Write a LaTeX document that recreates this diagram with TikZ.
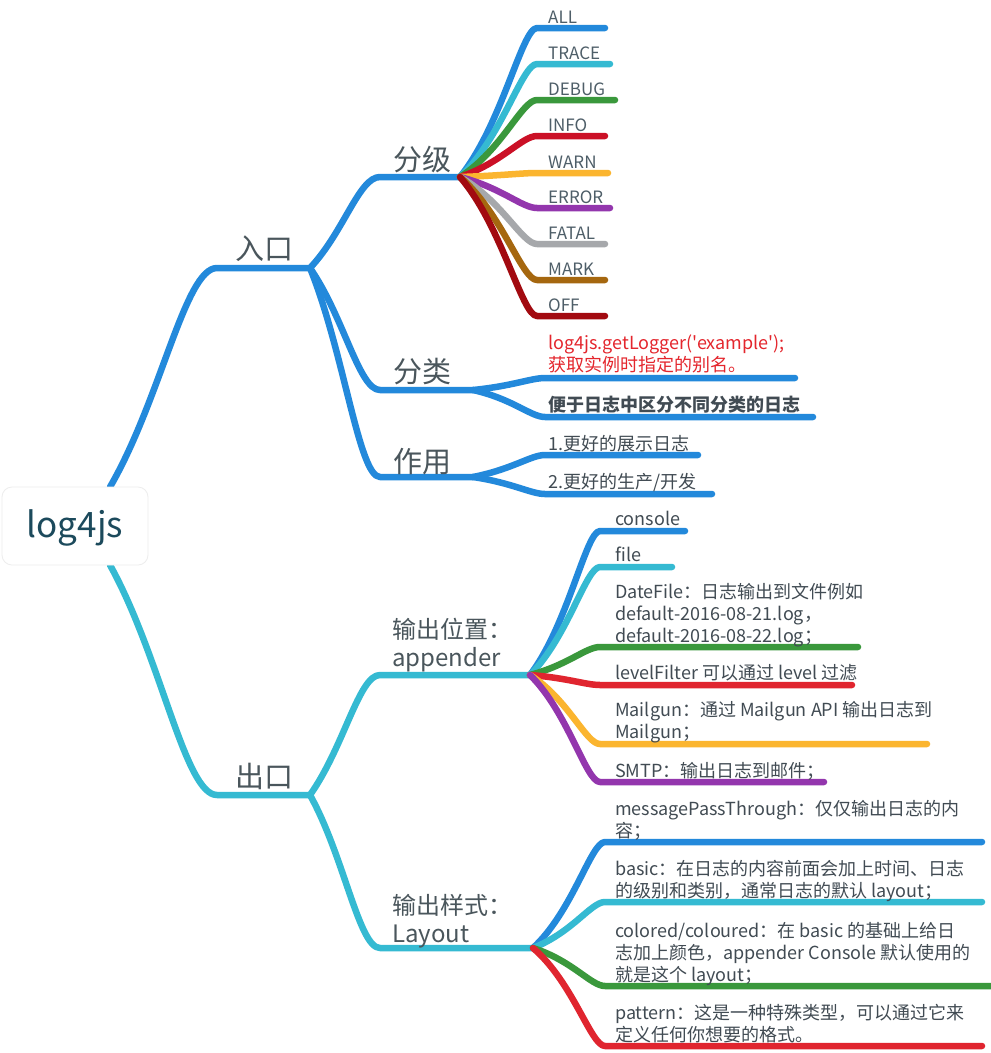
\documentclass[tikz,border=0pt]{standalone}
\usepackage{fontspec}
\setmainfont{Noto Sans CJK SC}[Ligatures=TeXOff]
\definecolor{cBlue}{HTML}{2389DB}
\definecolor{cCyan}{HTML}{35BAD2}
\definecolor{cGreen}{HTML}{3A983C}
\definecolor{cCrimson}{HTML}{CB1026}
\definecolor{cRed}{HTML}{E0252F}
\definecolor{cYellow}{HTML}{FBB52F}
\definecolor{cPurple}{HTML}{9336AD}
\definecolor{cGray}{HTML}{A6A8AB}
\definecolor{cBrown}{HTML}{A5670F}
\definecolor{cDark}{HTML}{A20A10}
\definecolor{txtMain}{HTML}{4A565C}
\definecolor{txtLeaf}{HTML}{414B53}
\definecolor{txtLvl}{HTML}{4E5E68}
\definecolor{txtRoot}{HTML}{1C4A5C}
\definecolor{txtRed}{HTML}{E4262D}
\newcommand\mlines[1]{\begin{tabular}[b]{@{}l@{}}#1\end{tabular}}
\begin{document}
\begin{tikzpicture}[x=1pt,y=-1pt,line cap=round,line join=round,
  br/.style={line width=6.5pt},
  mainlbl/.style={anchor=base west,inner sep=0pt,text=txtMain,font=\fontsize{29}{34}\selectfont},
  sublbl/.style={anchor=base west,inner sep=0pt,text=txtMain,font=\fontsize{24}{28}\selectfont},
  lvl/.style={anchor=base west,inner sep=0pt,text=txtLvl,font=\fontsize{17}{20}\selectfont},
  leaf/.style={anchor=base west,inner sep=0pt,text=txtLeaf,font=\fontsize{18}{22}\selectfont},
  leafb/.style={leaf,font=\fontsize{18}{22}\selectfont\bfseries},
  rootbox/.style={draw=black!7,line width=0.8pt,fill=white,rounded corners=10pt,
    minimum width=146pt,minimum height=78pt,inner sep=0pt,text=txtRoot,
    font=\fontsize{35}{42}\selectfont,text height=26pt,text depth=4pt}
]
\fill[white] (0,0) rectangle (991,1053);
\useasboundingbox (0,0) rectangle (991,1053);

% ---------- root -> level 1
\coordinate (rootT) at (110,487);
\coordinate (rootB) at (110,565);
\coordinate (rkE) at (217,268); \coordinate (rkH) at (310,268);
\coordinate (ckE) at (217,795); \coordinate (ckH) at (310,795);
\draw[br,cBlue] (rootT) .. controls +(51,-88) and +(-32,0) .. (rkE) -- (rkH);
\draw[br,cCyan] (rootB) .. controls +(51,92) and +(-32,0) .. (ckE) -- (ckH);
\node[mainlbl] (rk) at (235,259) {入口};
\node[mainlbl] (ck) at (235,787) {出口};

% ---------- 入口 -> level 2
\coordinate (fjE) at (380,177); \coordinate (fjH) at (460,177);
\coordinate (flE) at (380,390); \coordinate (flH) at (473,390);
\coordinate (zyE) at (380,477); \coordinate (zyH) at (473,477);
\draw[br,cBlue] (rkH) .. controls +(34,-36) and +(-21,0) .. (fjE) -- (fjH);
\draw[br,cBlue] (rkH) .. controls +(34,49) and +(-21,0) .. (flE) -- (flH);
\draw[br,cBlue] (rkH) .. controls +(34,84) and +(-21,0) .. (zyE) -- (zyH);
\node[mainlbl] (fj) at (393,170) {分级};
\node[mainlbl] (fl) at (393,382) {分类};
\node[mainlbl] (zy) at (393,472) {作用};

% ---------- 出口 -> level 2
\coordinate (wzE) at (380,675); \coordinate (wzH) at (530,675);
\coordinate (ysE) at (380,948); \coordinate (ysH) at (533,948);
\draw[br,cCyan] (ckH) .. controls +(34,-48) and +(-21,0) .. (wzE) -- (wzH);
\draw[br,cCyan] (ckH) .. controls +(34,61) and +(-21,0) .. (ysE) -- (ysH);
\node[sublbl] (wz) at (392,666) {\mlines{输出位置：\\appender}};
\node[sublbl] (ys) at (392,942) {\mlines{输出样式：\\Layout}};

% ---------- 分级 leaves
\foreach \n/\y/\xe/\c/\t in {all/28/605/cBlue/ALL,trace/64/610/cCyan/TRACE,
  debug/100/615/cGreen/DEBUG,info/136/605/cCrimson/INFO,warn/173/608/cYellow/WARN,
  error/208/610/cPurple/ERROR,fatal/244/605/cGray/FATAL,mark/280/605/cBrown/MARK,
  off/316/605/cDark/OFF}{
  \coordinate (\n E) at (537,\y);
  \coordinate (\n T) at (\xe,\y);
  \draw[br,\c] (fjH) .. controls +(42,{0.35*(\y-177)}) and +(-15,0) .. (\n E) -- (\n T);
  \node[lvl] (\n) at (548,\y-5) {\t};
}

% ---------- 分类 leaves
\coordinate (exE) at (545,378); \coordinate (exT) at (795,378);
\coordinate (bqE) at (545,417); \coordinate (bqT) at (813,417);
\draw[br,cBlue] (flH) .. controls +(40,-4) and +(-14,0) .. (exE) -- (exT);
\draw[br,cBlue] (flH) .. controls +(40,9) and +(-14,0) .. (bqE) -- (bqT);
\node[leaf,text=txtRed] (ex) at (548,371) {\mlines{log4js.getLogger('example');\\获取实例时指定的别名。}};
\node[leafb] (bq) at (548,411) {便于日志中区分不同分类的日志};

% ---------- 作用 leaves
\coordinate (u1E) at (545,455); \coordinate (u1T) at (698,455);
\coordinate (u2E) at (545,494); \coordinate (u2T) at (712,494);
\draw[br,cBlue] (zyH) .. controls +(40,-8) and +(-14,0) .. (u1E) -- (u1T);
\draw[br,cBlue] (zyH) .. controls +(40,6) and +(-14,0) .. (u2E) -- (u2T);
\node[leaf] (u1) at (548,450) {1.更好的展示日志};
\node[leaf] (u2) at (548,488) {2.更好的生产/开发};

% ---------- appender leaves
\coordinate (a1E) at (600,531); \coordinate (a1T) at (685,531);
\coordinate (a2E) at (600,567); \coordinate (a2T) at (672,567);
\coordinate (a3E) at (600,647); \coordinate (a3T) at (858,647);
\coordinate (a4E) at (600,685); \coordinate (a4T) at (852,685);
\coordinate (a5E) at (600,744); \coordinate (a5T) at (927,744);
\coordinate (a6E) at (600,782); \coordinate (a6T) at (824,782);
\draw[br,cBlue]   (wzH) .. controls +(38,-50) and +(-14,0) .. (a1E) -- (a1T);
\draw[br,cCyan]   (wzH) .. controls +(38,-38) and +(-14,0) .. (a2E) -- (a2T);
\draw[br,cGreen]  (wzH) .. controls +(38,-10) and +(-14,0) .. (a3E) -- (a3T);
\draw[br,cRed]    (wzH) .. controls +(38,3) and +(-14,0) .. (a4E) -- (a4T);
\draw[br,cYellow] (wzH) .. controls +(38,24) and +(-14,0) .. (a5E) -- (a5T);
\draw[br,cPurple] (wzH) .. controls +(38,37) and +(-14,0) .. (a6E) -- (a6T);
\node[leaf] (a1) at (615,525) {console};
\node[leaf] (a2) at (615,561) {file};
\node[leaf] (a3) at (615,642) {\mlines{DateFile：日志输出到文件例如\\default-2016-08-21.log，\\default-2016-08-22.log；}};
\node[leaf] (a4) at (615,679) {levelFilter 可以通过 level 过滤};
\node[leaf] (a5) at (615,738) {\mlines{Mailgun：通过 Mailgun API 输出日志到\\Mailgun；}};
\node[leaf] (a6) at (615,777) {SMTP：输出日志到邮件；};

% ---------- Layout leaves
\coordinate (l1E) at (605,842);  \coordinate (l1T) at (982,842);
\coordinate (l2E) at (605,902);  \coordinate (l2T) at (982,902);
\coordinate (l3E) at (605,986);  \coordinate (l3T) at (998,986);
\coordinate (l4E) at (605,1046); \coordinate (l4T) at (982,1046);
\draw[br,cBlue]  (ysH) .. controls +(40,-37) and +(-14,0) .. (l1E) -- (l1T);
\draw[br,cCyan]  (ysH) .. controls +(40,-16) and +(-14,0) .. (l2E) -- (l2T);
\draw[br,cGreen] (ysH) .. controls +(40,13) and +(-14,0) .. (l3E) -- (l3T);
\draw[br,cRed]   (ysH) .. controls +(40,34) and +(-14,0) .. (l4E) -- (l4T);
\node[leaf] (l1) at (615,837) {\mlines{messagePassThrough：仅仅输出日志的内\\容；}};
\node[leaf] (l2) at (615,897) {\mlines{basic：在日志的内容前面会加上时间、日志\\的级别和类别，通常日志的默认 layout；}};
\node[leaf] (l3) at (615,981) {\mlines{colored/coloured：在 basic 的基础上给日\\志加上颜色，appender Console 默认使用的\\就是这个 layout；}};
\node[leaf] (l4) at (615,1041) {\mlines{pattern：这是一种特殊类型，可以通过它来\\定义任何你想要的格式。}};

% ---------- root node
\node[rootbox] (root) at (75,526) {log4js};
\end{tikzpicture}
\end{document}
